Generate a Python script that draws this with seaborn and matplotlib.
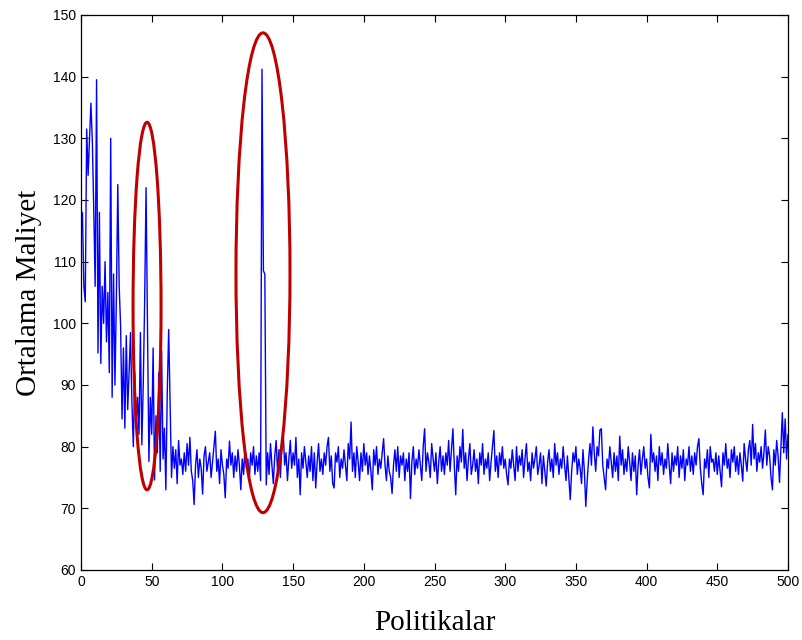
import matplotlib
matplotlib.use("Agg")
import matplotlib.pyplot as plt
from matplotlib.patches import Ellipse
import seaborn as sns
import numpy as np
import pandas as pd


# ortalama maliyet degerleri (politika 1..500)
maliyet_bas = [
    118, 106, 103.5, 131.5, 124, 130, 135.7, 129.5, 118.5, 106,
    139.5, 95.2, 118, 93.5, 106, 100, 110, 97, 105, 92,
    130, 88, 108, 90, 104, 122.5, 106, 99.5, 84.5, 96,
    83, 98, 86, 92, 98.5, 87, 80, 92, 84, 88,
    82, 98.5, 80.3, 90, 103.5, 122, 99.7, 77.6, 88, 82,
    96, 74.6, 85, 79, 92, 76, 95.5, 78, 83, 73,
    89, 99, 87, 75, 80, 76.5, 79.5, 74, 81, 77,
]
maliyet_orta = [
    78, 75.5, 79, 76, 80.5, 77, 81.5, 76, 74.5, 70.6,
    77, 79.5, 75, 78, 76.5, 72.3, 78.5, 80, 76, 77.5,
    79, 75, 77.5, 80, 82.5, 76, 78, 74, 79.5, 77,
    75.5, 71.7, 78, 76.5, 80.9, 77, 79, 75, 78.5, 76,
    79.5, 77, 73, 78, 75.5, 80, 76.5, 78, 74.5, 79,
    77, 80, 75.5, 78.5, 76, 79, 74.5, 141.2, 108.5, 108,
    73.8, 79, 75.5, 80.5, 77, 74, 78.5, 81, 76, 79.5,
    75, 80, 82.4, 77, 79, 74.5, 78, 81, 76.5, 79,
    77, 81.5, 75, 78, 72.2, 79, 76.5, 80, 77.5, 75,
    78.5, 76, 80, 74.5, 79, 73.3, 77.5, 80.5, 76, 78,
    75.5, 79, 77, 80, 81.5, 76, 78.5, 74, 73.3, 79,
    77.5, 80, 75, 78, 76.5, 79.5, 77, 74.5, 80.5, 78,
    84, 76, 79, 75, 80, 77.5, 74.5, 79, 76, 80.5,
    77, 79, 75.5, 78.5, 76, 73, 79.5, 77, 80, 75.5,
    78, 76.5, 79, 81.3, 77, 74.5, 78.5, 76, 75, 72.4,
    77, 79.5, 76, 80, 75, 78.5, 77, 79, 74.5, 78,
    76, 79, 71.6, 77.5, 80, 75.5, 78, 76.5, 79.5, 77,
    74.5, 80, 82.9, 76, 79, 77.5, 75, 80.5, 78, 76,
    79, 74, 77.5, 80, 76, 78.5, 75.5, 79, 77, 81,
    76, 79.5, 82.9, 77, 72.2, 78.5, 76, 80, 77.5, 82.8,
    76.5, 79, 74.5, 78, 80.5, 75.5, 77, 79.5, 76, 78,
]
maliyet_son = [
    74, 79, 77, 80.5, 75.5, 78, 76.5, 79, 74.5, 77.5,
    80, 82.6, 76, 78.5, 75, 79, 77, 80, 76.5, 78,
    75.5, 73.8, 78, 76.5, 79.5, 77, 74.5, 80, 76, 78.5,
    77, 79.5, 75, 78, 80.5, 76, 77.5, 74.5, 79, 76.5,
    78, 80, 75.5, 77, 79, 74, 78.5, 76, 73.6, 77.5,
    79.5, 76, 78, 75, 80.5, 77, 79, 75.5, 78, 76.5,
    80, 77, 74.5, 78.5, 75, 71.4, 76, 79, 77.5, 80,
    75.5, 78, 76.5, 74, 79.5, 76, 70.3, 74.5, 78, 80.5,
    77, 83.2, 79, 76, 80, 78.5, 82.7, 82.9, 77, 75,
    73, 78, 76.5, 80, 77.5, 75, 79, 76, 78.5, 74.5,
    81.7, 77, 79.5, 75.5, 78, 76, 80, 77.5, 74.5, 79,
    76, 78.5, 72.2, 77, 79.5, 75.5, 78, 80, 76.5, 78,
    75, 73.3, 82, 77.5, 79, 76, 78.5, 74.5, 80, 77,
    79, 75.5, 78, 76.5, 80.5, 77, 74, 79, 76, 78.5,
    77, 80, 75, 78.5, 76.5, 79.5, 74.5, 78, 77, 80,
    76, 78.5, 75.5, 79, 77, 80, 81.3, 76.5, 74, 72.2,
    78, 76.5, 79.5, 75, 80, 77.5, 78, 76, 79, 75.5,
    78.5, 76, 73.5, 79, 77, 80.5, 76.5, 78, 75, 79.5,
    77.5, 80, 76, 78.5, 75.5, 79, 77, 74.4, 80.5, 78,
    76, 79.5, 81, 77, 83.6, 78, 80.5, 76, 79, 77.5,
    80, 76.5, 79, 82.7, 77, 80, 78.5, 75, 73, 79.5,
    77, 81, 78.5, 74.2, 80, 85.5, 79, 84.5, 78, 82,
]
maliyet = maliyet_bas + maliyet_orta + maliyet_son
politika = list(range(1, len(maliyet) + 1))

# isaretlenen bolgeler: (merkez x, merkez y, genislik, yukseklik)
halka_1 = (46.7, 102.8, 19.8, 59.6)
halka_2 = (128.7, 108.2, 38.2, 77.8)

x_ticks = [0, 50, 100, 150, 200, 250, 300, 350, 400, 450, 500]
y_ticks = [60, 70, 80, 90, 100, 110, 120, 130, 140, 150]

df = pd.DataFrame({"Politikalar": politika, "Ortalama Maliyet": maliyet})

sns.set_style("ticks")
plt.rcParams["font.family"] = ["Liberation Sans", "DejaVu Sans"]

fig = plt.figure(figsize=(8.03, 6.4), dpi=100)
ax = fig.add_axes([0.1009, 0.1094, 0.8804, 0.8672])

sns.lineplot(data=df, x="Politikalar", y="Ortalama Maliyet", color="#0000ff",
             linewidth=1.0, ax=ax)

for cx, cy, w, h in (halka_1, halka_2):
    ax.add_patch(Ellipse((cx, cy), w, h, fill=False, edgecolor="#c00000",
                         linewidth=2.2, zorder=5))

ax.set_xlim(0, 500)
ax.set_ylim(60, 150)
ax.set_xticks(x_ticks)
ax.set_yticks(y_ticks)
ax.tick_params(direction="in", length=5, width=0.8, top=True, right=True,
               labelsize=10, colors="black")
for s in ax.spines.values():
    s.set_linewidth(0.9)
    s.set_color("black")

ax.set_xlabel("Politikalar", family=["Liberation Serif"], fontsize=21,
              labelpad=15, color="black")
ax.set_ylabel("Ortalama Maliyet", family=["Liberation Serif"], fontsize=21,
              labelpad=8, color="black")

fig.savefig("out.png", dpi=100)
